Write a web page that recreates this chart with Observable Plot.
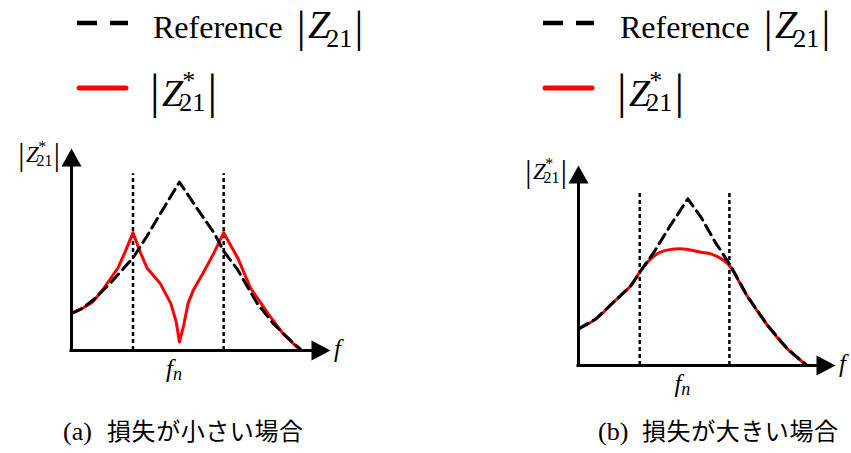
<!DOCTYPE html>
<html>
<head>
<meta charset="utf-8">
<script src="https://cdn.jsdelivr.net/npm/d3@7"></script>
<script src="https://cdn.jsdelivr.net/npm/@observablehq/plot@0.6"></script>
<style>
  html, body { margin: 0; padding: 0; background: #fff; }
  #fig { position: relative; width: 851px; height: 453px; overflow: hidden; background: #fff; }
  #fig > svg { position: absolute; overflow: visible; }
  #fig text.serif, #fig text.serif tspan { font-family: "Liberation Serif", "Times New Roman", serif; }
  #fig text.jp { font-family: "Noto Sans CJK JP", sans-serif; }
</style>
</head>
<body>
<div id="fig"></div>
<script>
// ---- Panel (a): small loss — normalised frequency f/fn and |Z| relative to the reference peak
const refA_f  = [0.00, 0.10, 0.20, 0.36, 0.57, 0.70, 0.82, 1.00, 1.20, 1.32, 1.41, 1.54, 1.72, 1.87, 2.06, 2.12];
const refA_z  = [0.22, 0.25, 0.30, 0.40, 0.55, 0.68, 0.81, 1.00, 0.81, 0.70, 0.59, 0.48, 0.28, 0.16, 0.04, 0.01];
const lossA_f = [0.00, 0.10, 0.20, 0.30, 0.43, 0.50, 0.57, 0.64, 0.70, 0.82, 0.92, 0.97, 1.00, 1.04, 1.08, 1.13, 1.22, 1.32, 1.41, 1.54, 1.66, 1.82, 1.96, 2.09];
const lossA_z = [0.22, 0.25, 0.29, 0.37, 0.49, 0.59, 0.70, 0.58, 0.49, 0.40, 0.28, 0.17, 0.05, 0.15, 0.28, 0.36, 0.46, 0.58, 0.70, 0.55, 0.37, 0.22, 0.10, 0.02];
const splitA  = [0.57, 1.41];

// ---- Panel (b): large loss
const refB_f  = [0.00, 0.16, 0.32, 0.48, 0.56, 0.69, 0.84, 1.00, 1.12, 1.25, 1.39, 1.54, 1.73, 1.91, 2.09];
const refB_z  = [0.22, 0.28, 0.38, 0.48, 0.56, 0.68, 0.84, 1.00, 0.89, 0.74, 0.60, 0.42, 0.24, 0.10, 0.00];
const lossB_f = [0.00, 0.16, 0.32, 0.48, 0.56, 0.66, 0.75, 0.93, 1.12, 1.21, 1.33, 1.39, 1.54, 1.73, 1.91, 2.09];
const lossB_z = [0.22, 0.28, 0.38, 0.48, 0.56, 0.64, 0.68, 0.70, 0.68, 0.67, 0.63, 0.59, 0.42, 0.24, 0.10, 0.00];
const splitB  = [0.56, 1.38];

// ---- Text
const legendRef  = "Reference";
const captionTag = ["(a)", "(b)"];
const captionJp  = ["損失が小さい場合", "損失が大きい場合"];

const fig = d3.select("#fig");

// Filled arrowheads for the axis ends (tip at the anchor point)
const arrowUp = { draw(ctx) { ctx.moveTo(0, 0); ctx.lineTo(10, 18); ctx.lineTo(-10, 18); ctx.closePath(); } };
const arrowRight = { draw(ctx) { ctx.moveTo(0, 0); ctx.lineTo(-19, -10); ctx.lineTo(-19, 10); ctx.closePath(); } };

// One <text> holding |Z21| or |Z*21|; the sub/superscript pair is stacked
// by measuring the run written so far and placing tspans absolutely.
function mathZ(g, x, y, o) {
  const t = g.append("text").attr("class", "serif").attr("x", x).attr("y", y);
  const len = () => x + t.node().getComputedTextLength();
  t.append("tspan").attr("font-size", o.bar).attr("dy", o.barDy).text("|");
  t.append("tspan").attr("font-size", o.size).attr("font-style", "italic")
    .attr("dx", o.size * 0.06).attr("dy", -o.barDy).text("Z");
  const subX = len() - o.size * 0.04;
  let end;
  if (o.star) {
    t.append("tspan").attr("font-size", o.sub).attr("x", subX + o.sub * 0.12)
      .attr("dy", -o.size * 0.45).text("*");
    t.append("tspan").attr("font-size", o.sub).attr("x", subX)
      .attr("dy", o.size * 0.45 + o.subDy).text("21");
  } else {
    t.append("tspan").attr("font-size", o.sub).attr("x", subX).attr("dy", o.subDy).text("21");
  }
  const box = t.node().getBBox();
  end = box.x + box.width;
  t.append("tspan").attr("font-size", o.bar).attr("x", end + o.size * 0.06)
    .attr("dy", o.barDy - o.subDy).text("|");
  return t;
}

function drawPanel(cfg) {
  const ref = cfg.refF.map((f, i) => ({ f, z: cfg.refZ[i] }));
  const loss = cfg.lossF.map((f, i) => ({ f, z: cfg.lossZ[i] }));
  const yMax = 1.2;

  const chart = Plot.plot({
    width: cfg.width,
    height: 260,
    marginLeft: cfg.marginLeft,
    marginRight: cfg.marginRight,
    marginTop: cfg.marginTop,
    marginBottom: 40,
    x: { domain: [0, cfg.xMax], axis: null },
    y: { domain: [0, yMax], axis: null },
    marks: [
      Plot.ruleX(cfg.split, { y1: 0, y2: cfg.splitTop, stroke: "black", strokeWidth: 2.5, strokeDasharray: "4,3" }),
      Plot.line(loss, { x: "f", y: "z", stroke: "#ff0000", strokeWidth: 3, curve: cfg.lossCurve }),
      Plot.line(ref, { x: "f", y: "z", stroke: "black", strokeWidth: 3, strokeDasharray: "11,6" }),
      Plot.ruleX([0], { y1: 0, y2: yMax - 0.05, stroke: "black", strokeWidth: 3, strokeLinecap: "square" }),
      Plot.ruleY([0], { x1: 0, x2: cfg.xMax - 0.1, stroke: "black", strokeWidth: 3, strokeLinecap: "square" }),
      Plot.dot([{ f: 0, z: yMax }], { x: "f", y: "z", symbol: arrowUp, fill: "black", stroke: "none" }),
      Plot.dot([{ f: cfg.xMax, z: 0 }], { x: "f", y: "z", symbol: arrowRight, fill: "black", stroke: "none" })
    ]
  });

  const svg = d3.select(chart)
    .style("left", cfg.left + "px").style("top", cfg.top + "px");
  fig.node().appendChild(chart);

  const sx = chart.scale("x").apply, sy = chart.scale("y").apply;
  const g = svg.append("g").attr("fill", "black").attr("text-anchor", "start");

  // axis names
  const lab = g.append("g");
  mathZ(lab, 0, 0, { size: 23, bar: 31, sub: 16, subDy: 4, barDy: 3, star: true });
  const bb = lab.node().getBBox();
  lab.attr("transform", `translate(${sx(0) - 11 - bb.width - bb.x},${sy(yMax) + 14})`);

  g.append("text").attr("class", "serif").attr("x", sx(cfg.xMax) + 4).attr("y", sy(0) + 7)
    .attr("font-size", 25).attr("font-style", "italic").text("f");

  const fn = g.append("text").attr("class", "serif").attr("x", sx(1) - 5).attr("y", sy(0) + 27)
    .attr("text-anchor", "middle").attr("font-style", "italic");
  fn.append("tspan").attr("font-size", 25).text("f");
  fn.append("tspan").attr("font-size", 18).attr("dy", 3).text("n");
}

function drawLegend(left, x0, tx1, tx2) {
  const svg = fig.append("svg").attr("width", 425).attr("height", 125)
    .style("left", left + "px").style("top", "0px");
  svg.append("line").attr("x1", x0).attr("x2", x0 + 51).attr("y1", 23).attr("y2", 23)
    .attr("stroke", "black").attr("stroke-width", 4.5).attr("stroke-dasharray", "20,13");
  svg.append("line").attr("x1", x0 + 2).attr("x2", x0 + 49).attr("y1", 88).attr("y2", 88)
    .attr("stroke", "#ff0000").attr("stroke-width", 5).attr("stroke-linecap", "round");
  const g = svg.append("g").attr("fill", "black");
  const t = g.append("text").attr("class", "serif").attr("x", tx1).attr("y", 38).attr("font-size", 32).text(legendRef);
  const w = t.node().getComputedTextLength();
  mathZ(g, tx1 + w + 14, 38, { size: 40, bar: 44, sub: 26, subDy: 9, barDy: 4, star: false });
  mathZ(g, tx2, 106, { size: 38, bar: 48, sub: 26, subDy: 5, barDy: 2, star: true });
}

function drawCaption(left, i, x) {
  const svg = fig.append("svg").attr("width", 426).attr("height", 60)
    .style("left", left + "px").style("top", "400px");
  const t = svg.append("text").attr("x", x).attr("y", 40).attr("fill", "black");
  t.append("tspan").attr("class", "serif").attr("font-size", 26).text(captionTag[i]);
  const jp = svg.append("text").attr("class", "jp").attr("x", x + 44).attr("y", 40)
    .attr("fill", "black").attr("font-size", 24).text(captionJp[i]);
  // fit the Japanese run to its printed width
  jp.attr("textLength", 196).attr("lengthAdjust", "spacing");
}

drawLegend(0, 77, 153, 150);
drawLegend(425, 118, 195, 192);

drawPanel({
  refF: refA_f, refZ: refA_z, lossF: lossA_f, lossZ: lossA_z, split: splitA, splitTop: 1.05,
  xMax: 2.4, width: 425, marginLeft: 71, marginRight: 95, marginTop: 18,
  left: 0, top: 130, lossCurve: "linear"
});
drawPanel({
  refF: refB_f, refZ: refB_z, lossF: lossB_f, lossZ: lossB_z, split: splitB, splitTop: 1.04,
  xMax: 2.35, width: 426, marginLeft: 153, marginRight: 16, marginTop: 20,
  left: 425, top: 145, lossCurve: "catmull-rom"
});

drawCaption(0, 0, 63);
drawCaption(425, 1, 173);
</script>
</body>
</html>
